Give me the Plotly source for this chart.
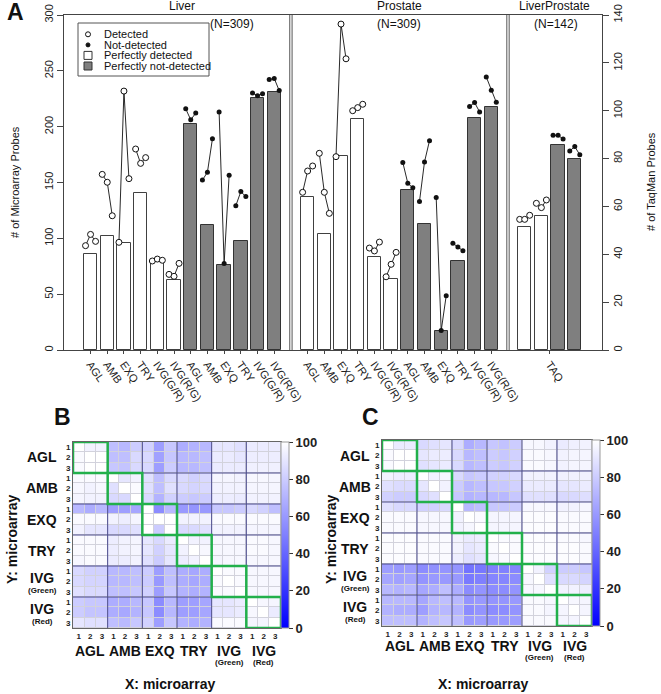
import plotly.graph_objects as go

W, H = 661, 694
FONT = "Liberation Sans, Arial, sans-serif"

# ---------------- panel A data ----------------
tissues = ["Liver", "Prostate", "LiverProstate"]
tissue_n = ["(N=309)", "(N=309)", "(N=142)"]
platforms = ["AGL", "AMB", "EXQ", "TRY", "IVG(G/R)", "IVG(R/G)"]

# bar heights, # of microarray probes (left axis)
liver_det = [86, 102, 96, 141, 79, 63]
liver_nd = [202, 112, 76, 98, 226, 231]
prostate_det = [137, 104, 174, 207, 83, 64]
prostate_nd = [143, 113, 17, 80, 208, 218]
lp_det = [110, 120]
lp_nd = [184, 171]

# replicate counts, # of TaqMan probes (right axis)
liver_det_reps = [[43.6, 48.3, 45.4], [73.4, 70.1, 56.1], [45.0, 108.2, 71.6],
                  [84.0, 78.0, 80.4], [37.2, 38.0, 37.5], [31.6, 30.8, 36.2]]
liver_nd_reps = [[100.8, 96.2, 99.0], [71.0, 74.3, 88.3], [99.5, 36.2, 73.0],
                 [60.3, 66.2, 64.1], [107.4, 106.3, 107.1], [113.0, 113.5, 108.4]]
prostate_det_reps = [[65.9, 74.8, 76.9], [82.2, 65.9, 57.1], [80.8, 136.2, 121.7],
                     [100.0, 101.3, 102.7], [42.6, 41.4, 45.1], [30.6, 35.8, 40.8]]
prostate_nd_reps = [[78.4, 69.7, 67.8], [62.1, 78.6, 87.5], [63.7, 8.1, 22.7],
                    [44.6, 43.0, 41.5], [101.8, 103.4, 99.5], [114.1, 108.6, 103.5]]
lp_det_reps = [[54.6, 54.6, 56.3], [61.3, 59.5, 62.7]]
lp_nd_reps = [[89.7, 89.7, 88.2], [83.2, 85.0, 81.6]]

# ---------------- panels B / C data ----------------
groups = ["AGL", "AMB", "EXQ", "TRY", "IVG", "IVG"]
group_sub = ["", "", "", "", "(Green)", "(Red)"]
reps = ["1", "2", "3"]

heat_b = [
    [100, 95, 95, 75, 72, 80, 82, 62, 78, 68, 70, 72, 90, 90, 88, 92, 92, 92],
    [98, 100, 100, 75, 75, 85, 85, 63, 78, 72, 72, 75, 92, 92, 90, 93, 93, 93],
    [98, 100, 100, 78, 77, 85, 85, 62, 80, 72, 72, 75, 92, 92, 92, 94, 94, 94],
    [98, 98, 98, 100, 90, 95, 88, 75, 85, 85, 82, 85, 96, 96, 95, 97, 97, 96],
    [97, 95, 97, 88, 100, 98, 88, 75, 88, 85, 83, 85, 95, 95, 95, 96, 96, 96],
    [96, 95, 95, 85, 85, 100, 85, 70, 82, 80, 78, 80, 93, 93, 92, 95, 95, 95],
    [72, 68, 72, 62, 62, 65, 100, 55, 72, 60, 58, 60, 78, 78, 80, 85, 82, 75],
    [98, 98, 98, 95, 93, 96, 100, 100, 100, 95, 95, 95, 98, 98, 98, 98, 98, 98],
    [95, 90, 90, 85, 85, 88, 100, 80, 100, 85, 85, 88, 95, 95, 95, 96, 96, 96],
    [98, 98, 98, 93, 95, 96, 90, 85, 92, 100, 95, 95, 97, 97, 97, 98, 98, 97],
    [98, 98, 98, 93, 95, 96, 90, 82, 90, 95, 100, 97, 97, 97, 97, 98, 98, 97],
    [97, 98, 98, 92, 93, 95, 88, 80, 90, 93, 95, 100, 96, 97, 97, 97, 97, 97],
    [85, 82, 82, 72, 72, 75, 80, 62, 75, 68, 65, 68, 100, 98, 98, 97, 97, 97],
    [85, 83, 83, 72, 72, 75, 80, 60, 75, 68, 65, 68, 98, 100, 98, 97, 97, 97],
    [88, 85, 85, 75, 75, 78, 82, 62, 78, 70, 68, 70, 98, 98, 100, 97, 97, 97],
    [80, 78, 78, 68, 68, 72, 78, 55, 72, 62, 62, 65, 90, 90, 92, 100, 97, 96],
    [80, 77, 77, 68, 66, 70, 78, 55, 72, 62, 62, 65, 90, 90, 92, 97, 100, 92],
    [90, 88, 88, 75, 73, 78, 82, 62, 78, 70, 68, 70, 98, 98, 98, 96, 96, 100],
]

heat_c = [
    [100, 92, 92, 85, 88, 90, 85, 68, 72, 78, 76, 80, 97, 97, 95, 92, 94, 95],
    [98, 100, 100, 90, 92, 93, 85, 72, 75, 80, 78, 82, 98, 98, 97, 95, 96, 96],
    [98, 100, 100, 88, 90, 92, 85, 72, 75, 80, 78, 82, 98, 98, 97, 95, 96, 96],
    [95, 93, 93, 100, 95, 97, 85, 78, 80, 82, 82, 85, 95, 95, 95, 94, 94, 94],
    [88, 86, 86, 90, 100, 95, 80, 72, 75, 78, 78, 82, 92, 92, 92, 90, 90, 92],
    [82, 80, 80, 85, 88, 100, 78, 70, 72, 72, 72, 78, 88, 88, 88, 85, 85, 87],
    [88, 85, 85, 82, 82, 85, 100, 72, 75, 78, 78, 80, 97, 97, 97, 95, 95, 96],
    [98, 98, 98, 97, 97, 97, 95, 100, 98, 96, 96, 96, 99, 99, 99, 98, 98, 98],
    [98, 98, 98, 97, 97, 97, 95, 97, 100, 96, 96, 96, 99, 99, 99, 98, 98, 98],
    [99, 99, 99, 98, 98, 98, 95, 92, 93, 100, 98, 98, 99, 99, 99, 98, 98, 97],
    [99, 99, 99, 98, 98, 98, 95, 90, 92, 98, 100, 98, 99, 99, 99, 99, 99, 98],
    [99, 99, 99, 98, 98, 98, 93, 88, 90, 97, 98, 100, 99, 99, 99, 99, 99, 98],
    [62, 60, 62, 55, 57, 58, 58, 45, 47, 50, 50, 52, 100, 95, 82, 80, 80, 78],
    [65, 63, 65, 58, 60, 60, 60, 48, 50, 52, 52, 55, 97, 100, 88, 85, 85, 83],
    [72, 70, 72, 65, 68, 75, 68, 55, 58, 55, 55, 58, 97, 97, 100, 95, 95, 93],
    [72, 72, 72, 65, 72, 75, 72, 58, 60, 58, 58, 60, 98, 98, 97, 100, 97, 96],
    [70, 68, 68, 62, 70, 72, 70, 55, 58, 55, 55, 58, 98, 98, 96, 96, 100, 96],
    [75, 75, 75, 70, 75, 78, 75, 60, 62, 60, 60, 62, 98, 98, 98, 96, 96, 100],
]


def px(x):
    return x / W


def py(y):
    return 1 - y / H


# bar slots: liver 0-11, gap, prostate 13-24, gap, liver+prostate 26-29
liver_slots = list(range(0, 12))
prostate_slots = list(range(13, 25))
lp_slots = list(range(26, 30))

det_x = liver_slots[:6] + prostate_slots[:6] + lp_slots[:2]
det_y = liver_det + prostate_det + lp_det
nd_x = liver_slots[6:] + prostate_slots[6:] + lp_slots[2:]
nd_y = liver_nd + prostate_nd + lp_nd


def rep_points(slots, rep_lists):
    xs, ys = [], []
    for s, vals in zip(slots, rep_lists):
        for k, v in enumerate(vals):
            xs.append(s + (k - 1) * 0.3)
            ys.append(v)
        xs.append(None)
        ys.append(None)
    return xs, ys


dpx, dpy = rep_points(det_x, liver_det_reps + prostate_det_reps + lp_det_reps)
npx, npy = rep_points(nd_x, liver_nd_reps + prostate_nd_reps + lp_nd_reps)

fig = go.Figure()

fig.add_trace(go.Bar(x=det_x, y=det_y, width=0.8, marker=dict(color="white", line=dict(color="#404040", width=1)),
                     showlegend=False, xaxis="x", yaxis="y"))
fig.add_trace(go.Bar(x=nd_x, y=nd_y, width=0.8, marker=dict(color="#7f7f7f", line=dict(color="#333333", width=1)),
                     showlegend=False, xaxis="x", yaxis="y"))
fig.add_trace(go.Scatter(x=dpx, y=dpy, mode="lines+markers", connectgaps=False,
                         line=dict(color="#111", width=0.9),
                         marker=dict(symbol="circle", size=6, color="white", line=dict(color="#111", width=1)),
                         showlegend=False, xaxis="x", yaxis="y2"))
fig.add_trace(go.Scatter(x=npx, y=npy, mode="lines+markers", connectgaps=False,
                         line=dict(color="#111", width=0.9),
                         marker=dict(symbol="circle", size=5, color="#111"),
                         showlegend=False, xaxis="x", yaxis="y2"))

# heatmaps
blue_scale = [[0, "#0000ff"], [1, "#ffffff"]]
cell_ticks = list(range(18))
cell_text = ["<b>" + r + "</b>" for r in reps] * 6


def cbar(xpix, ycenter, length):
    return dict(x=px(xpix), xanchor="left", xpad=0, y=py(ycenter), yanchor="middle", ypad=0,
                len=length / H, lenmode="fraction", thickness=8,
                outlinewidth=1, outlinecolor="#999",
                tickvals=[0, 20, 40, 60, 80, 100],
                ticktext=["<b>%d</b>" % v for v in [0, 20, 40, 60, 80, 100]],
                ticks="outside", ticklen=4, tickcolor="#333",
                tickfont=dict(size=13, color="#222", family=FONT))


fig.add_trace(go.Heatmap(z=heat_b, x=cell_ticks, y=cell_ticks, colorscale=blue_scale, zmin=0, zmax=100,
                         xgap=1, ygap=1, colorbar=cbar(281, 535, 186), xaxis="x3", yaxis="y3"))
fig.add_trace(go.Heatmap(z=heat_c, x=cell_ticks, y=cell_ticks, colorscale=blue_scale, zmin=0, zmax=100,
                         xgap=1, ygap=1, colorbar=cbar(592, 533, 186), xaxis="x4", yaxis="y4"))

axis_col = "#444"
tick_font = dict(size=11, color="#222", family=FONT)
heat_tick_font = dict(size=8, color="#222", family=FONT)

x_ticks = liver_slots + prostate_slots + [27.5]
x_text = platforms * 4 + ["TAQ"]


def heat_axis(domain, rng, anchor):
    return dict(domain=domain, range=rng, tickvals=cell_ticks, ticktext=cell_text, tickfont=heat_tick_font,
                ticks="", showline=True, linecolor="#666", mirror=True, showgrid=False, zeroline=False,
                anchor=anchor, automargin=False)


fig.update_layout(
    template="none",
    width=W, height=H,
    margin=dict(l=0, r=0, t=0, b=0, autoexpand=False),
    paper_bgcolor="white", plot_bgcolor="white",
    font=dict(family=FONT, color="#222"),
    showlegend=False,
    bargap=0,
    xaxis=dict(domain=[px(64), px(602)], range=[-1.59, 30.63], tickvals=x_ticks, ticktext=x_text,
               tickangle=55, tickfont=tick_font, ticks="outside", ticklen=3, tickcolor=axis_col,
               showline=True, linecolor=axis_col, linewidth=1, mirror=True, showgrid=False,
               zeroline=False, anchor="y", automargin=False),
    yaxis=dict(domain=[py(350), py(15)], range=[0, 300], tickvals=[0, 50, 100, 150, 200, 250, 300],
               tickangle=-90, tickfont=tick_font, ticks="outside", ticklen=6, tickcolor=axis_col,
               showline=True, linecolor=axis_col, linewidth=1, showgrid=False, zeroline=False, anchor="x",
               automargin=False),
    yaxis2=dict(overlaying="y", side="right", range=[0, 140], tickvals=[0, 20, 40, 60, 80, 100, 120, 140],
                tickangle=-90, tickfont=tick_font, ticks="outside", ticklen=6, tickcolor=axis_col,
                showline=True, linecolor=axis_col, linewidth=1, showgrid=False, zeroline=False, anchor="x",
                automargin=False),
    xaxis3=heat_axis([px(73), px(281)], [-0.5, 17.5], "y3"),
    yaxis3=heat_axis([py(628), py(442)], [17.5, -0.5], "x3"),
    xaxis4=heat_axis([px(382), px(592)], [-0.5, 17.5], "y4"),
    yaxis4=heat_axis([py(626), py(440)], [17.5, -0.5], "x4"),
)

shapes = []
# double separators between tissues
for sep in [12, 25]:
    for off in [-0.07, 0.07]:
        shapes.append(dict(type="line", xref="x", yref="paper", x0=sep + off, x1=sep + off,
                           y0=py(350), y1=py(15), line=dict(color="#555", width=1)))

# legend box and symbols
shapes.append(dict(type="rect", xref="paper", yref="paper", x0=px(78), x1=px(209), y0=py(76), y1=py(23),
                   line=dict(color="#555", width=1), fillcolor="white"))
leg_rows = [34.3, 44.9, 55.4, 66]
shapes.append(dict(type="circle", xref="paper", yref="paper", x0=px(85.5), x1=px(90.5),
                   y0=py(leg_rows[0] + 2.5), y1=py(leg_rows[0] - 2.5), line=dict(color="#111", width=1),
                   fillcolor="white"))
shapes.append(dict(type="circle", xref="paper", yref="paper", x0=px(86), x1=px(90),
                   y0=py(leg_rows[1] + 2), y1=py(leg_rows[1] - 2), line=dict(color="#111", width=1),
                   fillcolor="#111"))
shapes.append(dict(type="rect", xref="paper", yref="paper", x0=px(84), x1=px(92),
                   y0=py(leg_rows[2] + 4), y1=py(leg_rows[2] - 4), line=dict(color="#333", width=1),
                   fillcolor="white"))
shapes.append(dict(type="rect", xref="paper", yref="paper", x0=px(84), x1=px(92),
                   y0=py(leg_rows[3] + 4), y1=py(leg_rows[3] - 4), line=dict(color="#333", width=1),
                   fillcolor="#7f7f7f"))

# heatmap grids, group lines and diagonal boxes
for xr, yr in [("x3", "y3"), ("x4", "y4")]:
    shapes.append(dict(type="rect", xref=xr, yref=yr, x0=-0.5, x1=17.5, y0=-0.5, y1=17.5,
                       fillcolor="#d2d2dc", line=dict(width=0), layer="below"))
    for b in [2.5, 5.5, 8.5, 11.5, 14.5]:
        shapes.append(dict(type="line", xref=xr, yref=yr, x0=b, x1=b, y0=-0.5, y1=17.5,
                           line=dict(color="#4a4a8c", width=1)))
        shapes.append(dict(type="line", xref=xr, yref=yr, x0=-0.5, x1=17.5, y0=b, y1=b,
                           line=dict(color="#4a4a8c", width=1)))
    for k in range(6):
        shapes.append(dict(type="rect", xref=xr, yref=yr, x0=3 * k - 0.5, x1=3 * k + 2.5,
                           y0=3 * k - 0.5, y1=3 * k + 2.5, line=dict(color="#22b04b", width=2.5)))

ann = []


def text(x, y, s, size, xref="paper", yref="paper", bold=False, angle=0, xanchor="center", **kw):
    ann.append(dict(x=x, y=y, xref=xref, yref=yref, text=("<b>%s</b>" % s) if bold else s,
                    showarrow=False, xanchor=xanchor, yanchor="middle", textangle=angle,
                    font=dict(size=size, color="#111", family=FONT), **kw))


# panel letters
text(px(15), py(12), "A", 23, bold=True)
text(px(62), py(417), "B", 23, bold=True)
text(px(370), py(417), "C", 23, bold=True)

# tissue titles and counts
for xs, t, n, nx in zip([5.5, 18.5, 27.8], tissues, tissue_n, [8.5, 18.5, 27.9]):
    text(xs, py(6), t, 12, xref="x")
    text(nx, py(24), n, 12, xref="x")

# axis titles for panel A
text(px(15), py(182), "# of Microarray Probes", 11, angle=-90)
text(px(651), py(182), "# of TaqMan Probes", 11, angle=-90)

# legend labels
for yy, lab in zip(leg_rows, ["Detected", "Not-detected", "Perfectly detected", "Perfectly not-detected"]):
    text(px(102), py(yy), lab, 11, xanchor="left")

# heatmap labels
for xr, yr, ylab_x, xlab_y, sub_y, ytitle_x, xtitle_x in [
        ("x3", "y3", 42, 651, 662, 12, 170), ("x4", "y4", 355, 646, 657, 331, 483)]:
    for i, (g, sub) in enumerate(zip(groups, group_sub)):
        c = 3 * i + 1
        if sub:
            text(px(ylab_x), c - 0.35, g, 14, yref=yr, bold=True)
            text(px(ylab_x), c + 0.9, sub, 8, yref=yr, bold=True)
            text(c, py(xlab_y), g, 14, xref=xr, bold=True)
            text(c, py(sub_y), sub, 8, xref=xr, bold=True)
        else:
            text(px(ylab_x), c, g, 14, yref=yr, bold=True)
            text(c, py(xlab_y), g, 14, xref=xr, bold=True)
    text(px(ytitle_x), py(540), "Y: microarray", 14, bold=True, angle=-90)
    text(px(xtitle_x), py(684), "X: microarray", 14, bold=True)

fig.update_layout(shapes=shapes, annotations=ann)

# the page body has a default 8px margin; drop it so the figure sits at the window corner
fig.write_html("out.html", config={"displayModeBar": False},
               post_script="document.body.style.margin='0';")
